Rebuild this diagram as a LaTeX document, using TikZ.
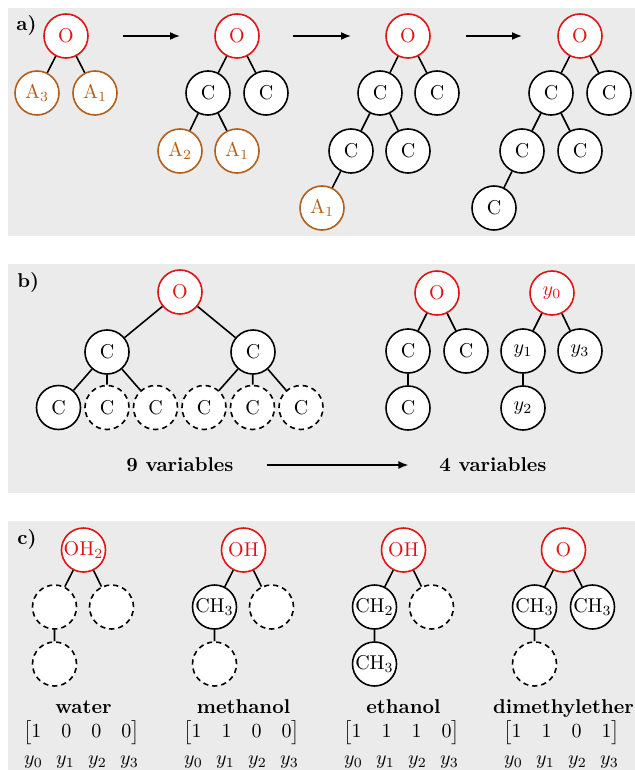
\documentclass[tikz,border=0pt]{standalone}
\usepackage{amsmath}
\usetikzlibrary{arrows.meta}
\definecolor{bggray}{RGB}{235,235,235}
\definecolor{ored}{RGB}{225,20,20}
\definecolor{abrown}{RGB}{180,95,25}
\begin{document}
\begin{tikzpicture}[x=0.5pt,y=-0.5pt,
  atom/.style={circle,draw,fill=white,line width=0.8pt,minimum size=22pt,inner sep=0pt},
  root/.style={atom,draw=ored,text=ored},
  anc/.style={atom,draw=abrown,text=abrown},
  ghost/.style={atom,dash pattern=on 2.6pt off 2pt},
  bond/.style={line width=0.8pt},
  flow/.style={line width=0.8pt,-{Latex[length=5pt,width=4pt]}},
  panel/.style={fill=bggray},
  plabel/.style={font=\bfseries,anchor=base west,inner sep=0pt},
  molname/.style={font=\bfseries,anchor=base,inner sep=0pt},
  vec/.style={anchor=base,inner sep=0pt},
]
\useasboundingbox (0,0) rectangle (635,770);
\fill[panel] (8,8) rectangle (635,236);
\fill[panel] (8,264) rectangle (635,493);
\fill[panel] (8,521) rectangle (635,770);

% ---------- panel a ----------
\node[plabel] (la) at (16,31) {a)};
% tree 1
\node[root] (a1o) at (66,36) {O};
\node[anc] (a1x) at (37,93) {A$_3$};
\node[anc] (a1y) at (95,93) {A$_1$};
\draw[bond] (a1o)--(a1x) (a1o)--(a1y);
% tree 2
\node[root] (a2o) at (237,36) {O};
\node[atom] (a2c1) at (208,93) {C};
\node[atom] (a2c2) at (266,93) {C};
\node[anc] (a2x) at (180,151) {A$_2$};
\node[anc] (a2y) at (237,151) {A$_1$};
\draw[bond] (a2o)--(a2c1) (a2o)--(a2c2) (a2c1)--(a2x) (a2c1)--(a2y);
% tree 3
\node[root] (a3o) at (408,36) {O};
\node[atom] (a3c1) at (380,93) {C};
\node[atom] (a3c2) at (437,93) {C};
\node[atom] (a3c3) at (351,151) {C};
\node[atom] (a3c4) at (408,151) {C};
\node[anc] (a3x) at (322,208) {A$_1$};
\draw[bond] (a3o)--(a3c1) (a3o)--(a3c2) (a3c1)--(a3c3) (a3c1)--(a3c4) (a3c3)--(a3x);
% tree 4
\node[root] (a4o) at (580,36) {O};
\node[atom] (a4c1) at (551,93) {C};
\node[atom] (a4c2) at (609,93) {C};
\node[atom] (a4c3) at (522,151) {C};
\node[atom] (a4c4) at (580,151) {C};
\node[atom] (a4c5) at (494,208) {C};
\draw[bond] (a4o)--(a4c1) (a4o)--(a4c2) (a4c1)--(a4c3) (a4c1)--(a4c4) (a4c3)--(a4c5);
% arrows
\coordinate (ar1s) at (123,36); \coordinate (ar1e) at (180,36);
\coordinate (ar2s) at (293,36); \coordinate (ar2e) at (351,36);
\coordinate (ar3s) at (466,36); \coordinate (ar3e) at (522,36);
\draw[flow] (ar1s)--(ar1e);
\draw[flow] (ar2s)--(ar2e);
\draw[flow] (ar3s)--(ar3e);

% ---------- panel b ----------
\node[plabel] (lb) at (17,287) {b)};
\node[root] (bo) at (180,292) {O};
\node[atom] (bc1) at (107,352) {C};
\node[atom] (bc2) at (253,352) {C};
\node[atom] (bd1) at (58.5,407.5) {C};
\node[ghost] (bd2) at (107,407.5) {C};
\node[ghost] (bd3) at (155.5,407.5) {C};
\node[ghost] (bd4) at (204,407.5) {C};
\node[ghost] (bd5) at (252.5,407.5) {C};
\node[ghost] (bd6) at (301,407.5) {C};
\draw[bond] (bo)--(bc1) (bo)--(bc2)
  (bc1)--(bd1) (bc1)--(bd2) (bc1)--(bd3)
  (bc2)--(bd4) (bc2)--(bd5) (bc2)--(bd6);
\node[root] (bro) at (437,293) {O};
\node[atom] (brc1) at (408,351) {C};
\node[atom] (brc2) at (466,351) {C};
\node[atom] (brc3) at (408,408) {C};
\draw[bond] (bro)--(brc1) (bro)--(brc2) (brc1)--(brc3);
\node[root] (byo) at (552,293) {$y_0$};
\node[atom] (by1) at (523,351) {$y_1$};
\node[atom] (by3) at (580,351) {$y_3$};
\node[atom] (by2) at (523,408) {$y_2$};
\draw[bond] (byo)--(by1) (byo)--(by3) (by1)--(by2);
\node[font=\bfseries] (b9) at (180,465) {9 variables};
\node[font=\bfseries] (b4) at (493,465) {4 variables};
\draw[flow,shorten <=13pt,shorten >=12pt] (b9)--(b4);

% ---------- panel c ----------
\node[plabel] (lc) at (17,544) {c)};
% water
\node[root] (cwo) at (83.5,550) {OH$_2$};
\node[ghost] (cw1) at (54.5,607) {};
\node[ghost] (cw3) at (111.5,607) {};
\node[ghost] (cw2) at (54.5,664) {};
\draw[bond] (cwo)--(cw1) (cwo)--(cw3) (cw1)--(cw2);
% methanol
\node[root] (cmo) at (243.5,550) {OH};
\node[atom] (cm1) at (214.5,607) {CH$_3$};
\node[ghost] (cm3) at (271.5,607) {};
\node[ghost] (cm2) at (214.5,664) {};
\draw[bond] (cmo)--(cm1) (cmo)--(cm3) (cm1)--(cm2);
% ethanol
\node[root] (ceo) at (403.5,550) {OH};
\node[atom] (ce1) at (374.5,607) {CH$_2$};
\node[ghost] (ce3) at (431.5,607) {};
\node[atom] (ce2) at (374.5,664) {CH$_3$};
\draw[bond] (ceo)--(ce1) (ceo)--(ce3) (ce1)--(ce2);
% dimethylether
\node[root] (cdo) at (563.5,550) {O};
\node[atom] (cd1) at (534.5,607) {CH$_3$};
\node[atom] (cd3) at (592.5,607) {CH$_3$};
\node[ghost] (cd2) at (534.5,664) {};
\draw[bond] (cdo)--(cd1) (cdo)--(cd3) (cd1)--(cd2);
% names and vectors
\foreach \cx/\nm/\a/\b/\c/\d [count=\i] in {83.5/water/1/0/0/0, 243.5/methanol/1/1/0/0, 403.5/ethanol/1/1/1/0, 563.5/dimethylether/1/1/0/1}{
  \node[molname] (name\i) at (\cx,713) {\nm};
  \node[inner sep=0pt] (vec\i) at (\cx-2,733) {$\begin{bmatrix}\a & \b & \c & \d\end{bmatrix}$};
  \node[vec] (ya\i) at (\cx-50,764) {$y_0$};
  \node[vec] (yb\i) at (\cx-18,764) {$y_1$};
  \node[vec] (yc\i) at (\cx+14,764) {$y_2$};
  \node[vec] (yd\i) at (\cx+46,764) {$y_3$};
}
\end{tikzpicture}
\end{document}
